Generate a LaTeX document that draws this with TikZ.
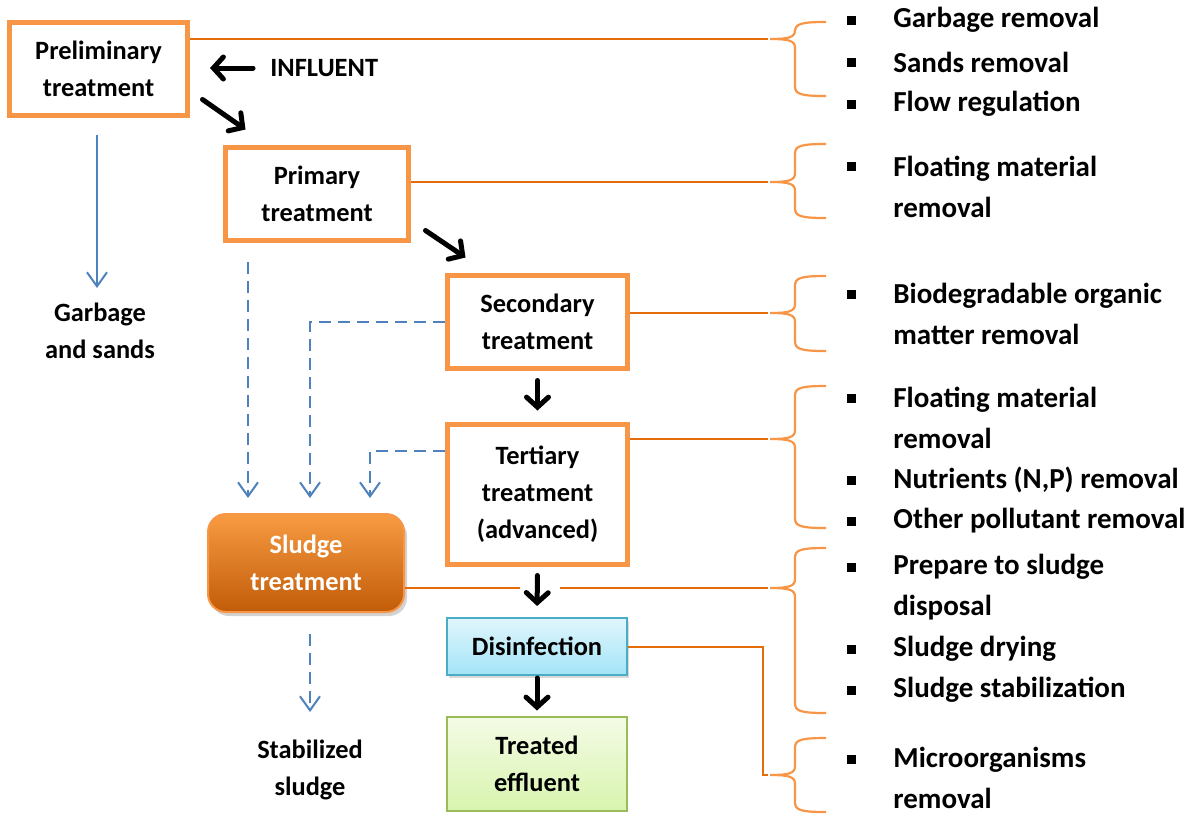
\documentclass[tikz,border=0pt]{standalone}
\usepackage{fontspec}
\setmainfont{Carlito}
\usetikzlibrary{arrows.meta,shadows}

\definecolor{boxorange}{HTML}{F79646}
\definecolor{lineorange}{HTML}{E46C0A}
\definecolor{flowblue}{HTML}{4F81BD}
\definecolor{disborder}{HTML}{4BACC6}
\definecolor{distop}{HTML}{E0F6FC}
\definecolor{disbottom}{HTML}{A3E4F7}
\definecolor{effborder}{HTML}{9BBB59}
\definecolor{efftop}{HTML}{F4FBE6}
\definecolor{effbottom}{HTML}{D8F4AE}

\newcommand{\boxfont}{\fontsize{13.2}{18.5}\selectfont\bfseries}
\newcommand{\listfont}{\fontsize{14.5}{20.5}\selectfont\bfseries}

\tikzset{
    stage/.style={draw=boxorange, line width=2.5pt, fill=white, align=center,
        font=\boxfont, inner sep=0pt},
    sludgebox/.style={draw=boxorange, line width=1pt, rounded corners=9pt,
        top color=boxorange!95!yellow, bottom color=lineorange!85!black,
        text=white, align=center, font=\boxfont,
        drop shadow={shadow xshift=1.5pt, shadow yshift=-2pt, opacity=0.35}},
    plain/.style={align=center, font=\boxfont, inner sep=0pt},
    item/.style={anchor=west, align=left, font=\listfont, inner sep=0pt},
    bullet/.style={fill=black, minimum size=4.5pt, inner sep=0pt},
    flow/.style={line width=2.5pt, line cap=round,
        -{Straight Barb[length=5pt, width=11pt, line cap=round]}},
    wasteflow/.style={draw=flowblue, line width=1pt,
        -{Straight Barb[length=7pt, width=10pt]}},
    sludgeflow/.style={wasteflow, dash pattern=on 6pt off 3.5pt},
    tobrace/.style={draw=lineorange, line width=1pt},
    brace/.style={draw=boxorange, line width=1.1pt}
}

\begin{document}
\begin{tikzpicture}[x=0.5pt, y=-0.5pt]
    \useasboundingbox (0,0) rectangle (1194,814);

    % treatment line
    \node[stage, minimum width=89pt, minimum height=46.5pt] (prelim) at (98.5,69) {Preliminary\\treatment};
    \node[stage, minimum width=91.5pt, minimum height=46.5pt] (prim) at (317,194) {Primary\\treatment};
    \node[stage, minimum width=90pt, minimum height=46.5pt] (sec) at (537.5,322) {Secondary\\treatment};
    \node[stage, minimum width=90pt, minimum height=70pt] (tert) at (537.5,494.5) {Tertiary\\treatment\\(advanced)};
    \node[draw=disborder, line width=1pt, top color=distop, bottom color=disbottom,
          drop shadow={shadow xshift=1pt, shadow yshift=-1.5pt, opacity=0.3},
          minimum width=90pt, minimum height=28.5pt, font=\boxfont, inner sep=0pt] (dis) at (537,646.5) {Disinfection};
    \node[draw=effborder, line width=1pt, top color=efftop, bottom color=effbottom,
          minimum width=90pt, minimum height=47pt, align=center, font=\boxfont, inner sep=0pt] (eff) at (537,764) {Treated\\effluent};

    \node[sludgebox, minimum width=98pt, minimum height=49pt] (sludge) at (306,563) {Sludge\\treatment};

    \node[plain, anchor=west] (infl) at (270,68) {INFLUENT};
    \node[plain] (garb) at (100,331) {Garbage\\and sands};
    \node[plain] (stab) at (310,770) {Stabilized\\sludge};

    % ends of the waste lines
    \coordinate (garbtop) at (97,288);
    \coordinate (drop1) at (248,498);
    \coordinate (drop2) at (310,498);
    \coordinate (drop3) at (370,498);
    \coordinate (stabtop) at (310,712);

    \draw[wasteflow, shorten <=8.5pt] (garbtop |- prelim.south) -- (garbtop);
    \draw[sludgeflow, shorten <=9.5pt] (drop1 |- prim.south) -- (drop1);
    \draw[sludgeflow] (sec.west) -| (drop2);
    \draw[sludgeflow] ([yshift=22pt]tert.west) -| (drop3);
    \draw[sludgeflow, shorten <=10.5pt] (stabtop |- sludge.south) -- (stabtop);

    % brace tips
    \coordinate (tip1) at (768,39);
    \coordinate (tip2) at (768,182);
    \coordinate (tip3) at (768,313);
    \coordinate (tip4) at (768,439);
    \coordinate (tip5) at (768,588);
    \coordinate (tip6) at (768,775);
    \coordinate (elbow) at (763,700);

    \draw[tobrace] (prelim.east |- tip1) -- (tip1);
    \draw[tobrace] (prim.east |- tip2) -- (tip2);
    \draw[tobrace] (sec.east |- tip3) -- (tip3);
    \draw[tobrace] (tert.east |- tip4) -- (tip4);
    \draw[tobrace] (sludge.east |- tip5) -- (tip5);
    \draw[tobrace] (dis.east) -| (elbow) |- (tip6);

    \foreach \t/\m/\b in {22/39/96, 144/182/218, 276/313/351, 386/439/528, 548/588/713, 738/775/812}
        \draw[brace] (826,\t) .. controls (800,\t) and (795,\t+2) .. (795,\t+10)
            -- (795,\m-9) .. controls (795,\m-2) and (790,\m) .. (770,\m)
            .. controls (790,\m) and (795,\m+2) .. (795,\m+9)
            -- (795,\b-10) .. controls (795,\b-2) and (800,\b) .. (826,\b);

    % black flow arrows
    \draw[flow, shorten <=8.5pt, shorten >=10pt] (infl.west) -- (prelim.east |- infl.west);
    \draw[flow] ([shift={(6.25pt,9.25pt)}]prelim.south east) -- ([shift={(11.25pt,7.75pt)}]prim.north west);
    \draw[flow] ([shift={(7.25pt,6.25pt)}]prim.south east) -- ([shift={(10.25pt,7.75pt)}]sec.north west);
    \draw[flow, shorten <=4.75pt, shorten >=5.75pt] (sec.south) -- (tert.north);
    \fill[white] (520,581) rectangle (560,595);
    \draw[flow, shorten <=4.25pt, shorten >=5.5pt] (tert.south) -- (dis.north);
    \draw[flow, shorten <=1pt, shorten >=2.75pt] (dis.south) -- (eff.north);

    % lists
    \node[bullet] (b1) at (851,20) {};
    \node[item] (i1) at (893,20) {Garbage removal};
    \node[bullet] (b2) at (851,62) {};
    \node[item] (i2) at (893,62) {Sands removal};
    \node[bullet] (b3) at (851,104) {};
    \node[item] (i3) at (893,104) {Flow regulation};

    \node[bullet] (b4) at (851,166) {};
    \node[item] (i4) at (893,187) {Floating material\\removal};

    \node[bullet] (b5) at (851,294) {};
    \node[item] (i5) at (893,314) {Biodegradable organic\\matter removal};

    \node[bullet] (b6) at (851,398) {};
    \node[item] (i6) at (893,418) {Floating material\\removal};
    \node[bullet] (b7) at (851,480) {};
    \node[item] (i7) at (893,480) {Nutrients (N,P) removal};
    \node[bullet] (b8) at (851,521) {};
    \node[item] (i8) at (893,521) {Other pollutant removal};

    \node[bullet] (b9) at (851,567) {};
    \node[item] (i9) at (893,587) {Prepare to sludge\\disposal};
    \node[bullet] (b10) at (851,649) {};
    \node[item] (i10) at (893,649) {Sludge drying};
    \node[bullet] (b11) at (851,690) {};
    \node[item] (i11) at (893,690) {Sludge stabilization};

    \node[bullet] (b12) at (851,759) {};
    \node[item] (i12) at (893,778) {Microorganisms\\removal};
\end{tikzpicture}
\end{document}
